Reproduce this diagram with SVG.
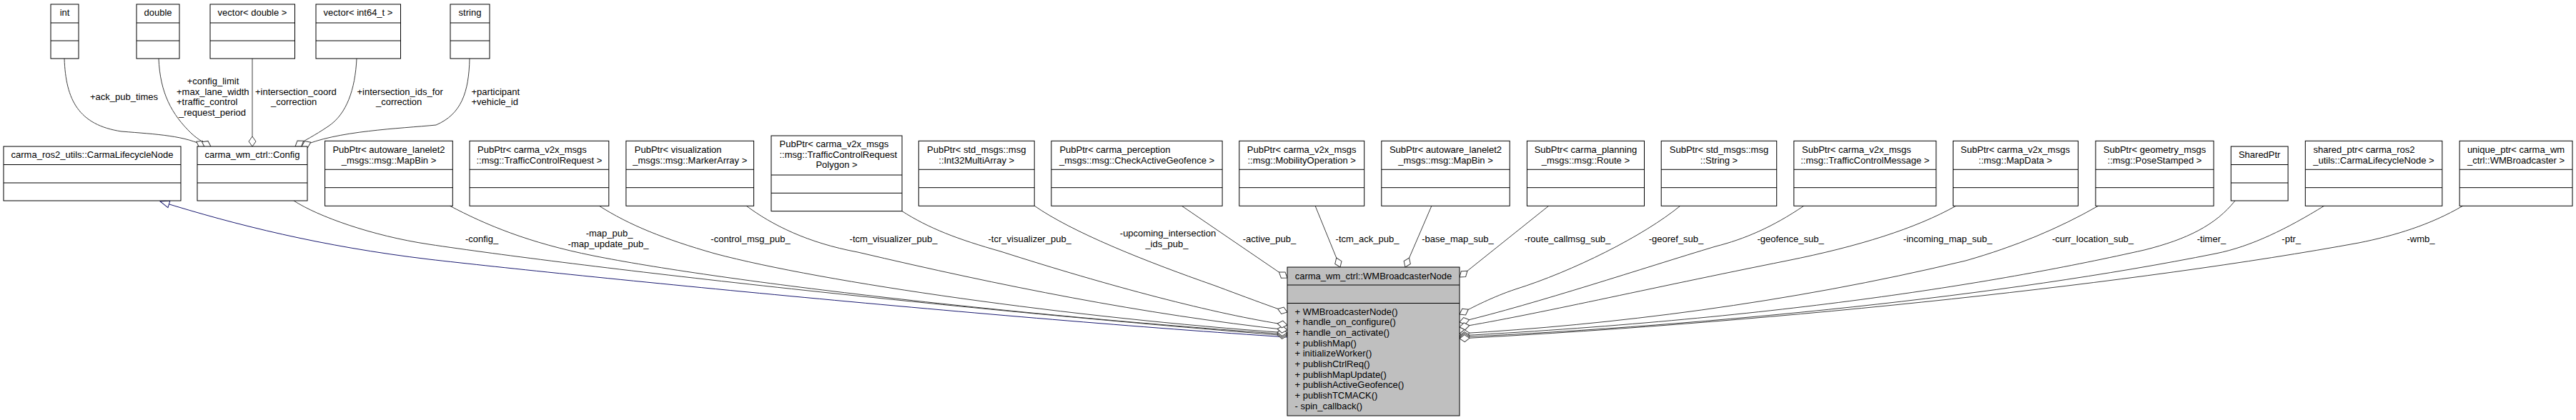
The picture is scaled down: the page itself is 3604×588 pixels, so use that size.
<svg xmlns="http://www.w3.org/2000/svg" width="3604" height="588" viewBox="0 0 3604 588">
<style>
text{font-family:"Liberation Sans",Arial,Helvetica,sans-serif;font-size:13px;fill:#000}
.m{text-anchor:middle}
.b{fill:#fff;stroke:#000;stroke-width:1}
.g{fill:#bfbfbf;stroke:#000;stroke-width:1}
.d{stroke:#000;stroke-width:1}
.e{fill:none;stroke:#404040;stroke-width:1;marker-end:url(#dia)}
.i{fill:none;stroke:#191970;stroke-width:1;marker-end:url(#tri)}
</style>
<defs>
<marker id="dia" markerUnits="userSpaceOnUse" markerWidth="16" markerHeight="12" viewBox="-1 -6 16 12" refX="14" refY="0" orient="auto" overflow="visible">
<path d="M0,0 L7,-5 L14,0 L7,5 Z" fill="#fff" stroke="#404040" stroke-width="1"/>
</marker>
<marker id="tri" markerUnits="userSpaceOnUse" markerWidth="15" markerHeight="12" viewBox="-1 -6 15 12" refX="13" refY="0" orient="auto" overflow="visible">
<path d="M0,-5 L13,0 L0,5 Z" fill="#fff" stroke="#191970" stroke-width="1"/>
</marker>
</defs>
<rect width="3604" height="588" fill="#fff"/>

<g id="connectors">
<path class="e" d="M90,82 C92,140 110,175 170,184 C220,188 260,190 287,205"/>
<path class="e" d="M222,82 C224,130 240,160 268,187 C278,196 287,201 295,205"/>
<path class="e" d="M353,82 L353,205"/>
<path class="e" d="M499,82 C497,125 485,160 459,177 C440,190 425,197 413,205"/>
<path class="e" d="M657,82 C656,130 645,160 610,175 C560,180 470,183 422,205"/>
<path class="i" d="M1801,472 C1400,446 800,386 600,363 C450,345 330,315 224,282"/>
<path class="e" d="M411,281 C445,303 520,330 600,342 C800,372 1300,430 1801,470"/>
<path class="e" d="M629,288 C680,315 740,340 830,358 C1000,392 1400,440 1801,468"/>
<path class="e" d="M838,288 C880,315 930,335 1000,355 C1150,395 1500,445 1801,466"/>
<path class="e" d="M1044,288 C1080,315 1130,340 1200,353 C1400,400 1600,440 1801,462"/>
<path class="e" d="M1261,295 C1300,320 1340,335 1400,352 C1550,400 1700,440 1801,455"/>
<path class="e" d="M1447,288 C1500,325 1600,365 1700,400 C1740,415 1775,428 1801,437"/>
<path class="e" d="M1653,288 L1801,389"/>
<path class="e" d="M1840,288 L1875,374"/>
<path class="e" d="M2003,288 L1966,374"/>
<path class="e" d="M2167,288 L2042,388"/>
<path class="e" d="M2351,288 C2300,330 2200,380 2120,405 C2090,415 2060,430 2042,440"/>
<path class="e" d="M2524,288 C2480,318 2440,335 2400,345 C2300,375 2150,425 2042,451"/>
<path class="e" d="M2737,288 C2680,320 2600,345 2500,365 C2300,405 2150,440 2042,458"/>
<path class="e" d="M2936,288 C2880,320 2820,345 2750,365 C2500,425 2250,455 2042,467"/>
<path class="e" d="M3127,281 C3100,315 3060,335 3000,350 C2800,395 2500,445 2042,470"/>
<path class="e" d="M3252,288 C3200,320 3150,345 3100,355 C2800,415 2400,455 2042,472"/>
<path class="e" d="M3446,288 C3400,315 3350,330 3300,340 C3000,395 2500,450 2042,474"/>
<text x="126" y="139.5">+ack_pub_times</text>
<text class="m" x="298" y="118">+config_limit</text>
<text x="247" y="132.5">+max_lane_width</text>
<text x="247" y="147">+traffic_control</text>
<text class="m" x="297" y="161.5">_request_period</text>
<text x="357" y="132.5">+intersection_coord</text>
<text x="379" y="147">_correction</text>
<text x="499.5" y="132.5">+intersection_ids_for</text>
<text x="526" y="147">_correction</text>
<text x="659.5" y="132.5">+participant</text>
<text x="659.5" y="147">+vehicle_id</text>
<text class="m" x="674" y="338.5">-config_</text>
<text class="m" x="852.6" y="331">-map_pub_</text>
<text class="m" x="851" y="345.5">-map_update_pub_</text>
<text class="m" x="1050" y="338.5">-control_msg_pub_</text>
<text class="m" x="1250" y="338.5">-tcm_visualizer_pub_</text>
<text class="m" x="1440.7" y="338.5">-tcr_visualizer_pub_</text>
<text class="m" x="1634" y="331">-upcoming_intersection</text>
<text class="m" x="1632.4" y="345.5">_ids_pub_</text>
<text class="m" x="1776" y="338.5">-active_pub_</text>
<text class="m" x="1913" y="338.5">-tcm_ack_pub_</text>
<text class="m" x="2039.5" y="338.5">-base_map_sub_</text>
<text class="m" x="2193" y="338.5">-route_callmsg_sub_</text>
<text class="m" x="2345" y="338.5">-georef_sub_</text>
<text class="m" x="2505" y="338.5">-geofence_sub_</text>
<text class="m" x="2725" y="338.5">-incoming_map_sub_</text>
<text class="m" x="2928" y="338.5">-curr_location_sub_</text>
<text class="m" x="3094" y="338.5">-timer_</text>
<text class="m" x="3205.7" y="338.5">-ptr_</text>
<text class="m" x="3387" y="338.5">-wmb_</text>
</g>

<g id="n_int"><rect class="b" x="71" y="6" width="39" height="76"/><line class="d" x1="71" y1="32" x2="110" y2="32"/><line class="d" x1="71" y1="57" x2="110" y2="57"/><text class="m" x="90.5" y="22">int</text></g>
<g id="n_double"><rect class="b" x="191" y="6" width="60" height="76"/><line class="d" x1="191" y1="32" x2="251" y2="32"/><line class="d" x1="191" y1="57" x2="251" y2="57"/><text class="m" x="221" y="22">double</text></g>
<g id="n_vecdouble"><rect class="b" x="294" y="6" width="118.5" height="76"/><line class="d" x1="294" y1="32" x2="412.5" y2="32"/><line class="d" x1="294" y1="57" x2="412.5" y2="57"/><text class="m" x="353" y="22">vector&lt; double &gt;</text></g>
<g id="n_vecint64"><rect class="b" x="442" y="6" width="118.5" height="76"/><line class="d" x1="442" y1="32" x2="560.5" y2="32"/><line class="d" x1="442" y1="57" x2="560.5" y2="57"/><text class="m" x="501" y="22">vector&lt; int64_t &gt;</text></g>
<g id="n_string"><rect class="b" x="630" y="6" width="55" height="76"/><line class="d" x1="630" y1="32" x2="685" y2="32"/><line class="d" x1="630" y1="57" x2="685" y2="57"/><text class="m" x="657.5" y="22">string</text></g>

<g id="n_carmalifecycle"><rect class="b" x="5" y="205" width="248" height="76"/><line class="d" x1="5" y1="230.5" x2="253" y2="230.5"/><line class="d" x1="5" y1="256" x2="253" y2="256"/><text class="m" x="129" y="221">carma_ros2_utils::CarmaLifecycleNode</text></g>
<g id="n_config"><rect class="b" x="276" y="205" width="154" height="76"/><line class="d" x1="276" y1="230.5" x2="430" y2="230.5"/><line class="d" x1="276" y1="256" x2="430" y2="256"/><text class="m" x="353" y="221">carma_wm_ctrl::Config</text></g>

<g id="n_pub_mapbin"><rect class="b" x="454.6" y="197.3" width="178.7" height="91"/><line class="d" x1="454.6" y1="237.3" x2="633.3" y2="237.3"/><line class="d" x1="454.6" y1="262.7" x2="633.3" y2="262.7"/><text class="m" x="544" y="214">PubPtr&lt; autoware_lanelet2</text><text class="m" x="544" y="228.5">_msgs::msg::MapBin &gt;</text></g>
<g id="n_pub_tcr"><rect class="b" x="657" y="197.3" width="194.8" height="91"/><line class="d" x1="657" y1="237.3" x2="851.8" y2="237.3"/><line class="d" x1="657" y1="262.7" x2="851.8" y2="262.7"/><text x="668" y="214">PubPtr&lt; carma_v2x_msgs</text><text class="m" x="754.4" y="228.5">::msg::TrafficControlRequest &gt;</text></g>
<g id="n_pub_marker"><rect class="b" x="875.9" y="197.3" width="178.7" height="91"/><line class="d" x1="875.9" y1="237.3" x2="1054.6" y2="237.3"/><line class="d" x1="875.9" y1="262.7" x2="1054.6" y2="262.7"/><text x="887.8" y="214">PubPtr&lt; visualization</text><text class="m" x="965.3" y="228.5">_msgs::msg::MarkerArray &gt;</text></g>
<g id="n_pub_tcrpoly"><rect class="b" x="1079" y="190" width="183" height="105.6"/><line class="d" x1="1079" y1="245" x2="1262" y2="245"/><line class="d" x1="1079" y1="270.3" x2="1262" y2="270.3"/><text x="1090.5" y="206">PubPtr&lt; carma_v2x_msgs</text><text x="1090.5" y="220.5">::msg::TrafficControlRequest</text><text class="m" x="1170.5" y="235">Polygon &gt;</text></g>
<g id="n_pub_int32"><rect class="b" x="1285.3" y="197.3" width="161.9" height="91"/><line class="d" x1="1285.3" y1="237.3" x2="1447.2" y2="237.3"/><line class="d" x1="1285.3" y1="262.7" x2="1447.2" y2="262.7"/><text class="m" x="1366.2" y="214">PubPtr&lt; std_msgs::msg</text><text class="m" x="1366.2" y="228.5">::Int32MultiArray &gt;</text></g>
<g id="n_pub_geofence"><rect class="b" x="1470.9" y="197.3" width="239.2" height="91"/><line class="d" x1="1470.9" y1="237.3" x2="1710.1" y2="237.3"/><line class="d" x1="1470.9" y1="262.7" x2="1710.1" y2="262.7"/><text x="1482.4" y="214">PubPtr&lt; carma_perception</text><text class="m" x="1590.5" y="228.5">_msgs::msg::CheckActiveGeofence &gt;</text></g>
<g id="n_pub_mobility"><rect class="b" x="1733.8" y="197.3" width="174.9" height="91"/><line class="d" x1="1733.8" y1="237.3" x2="1908.7" y2="237.3"/><line class="d" x1="1733.8" y1="262.7" x2="1908.7" y2="262.7"/><text class="m" x="1821.2" y="214">PubPtr&lt; carma_v2x_msgs</text><text class="m" x="1821.2" y="228.5">::msg::MobilityOperation &gt;</text></g>
<g id="n_sub_mapbin"><rect class="b" x="1932.8" y="197.3" width="179.4" height="91"/><line class="d" x1="1932.8" y1="237.3" x2="2112.2" y2="237.3"/><line class="d" x1="1932.8" y1="262.7" x2="2112.2" y2="262.7"/><text class="m" x="2022.5" y="214">SubPtr&lt; autoware_lanelet2</text><text class="m" x="2022.5" y="228.5">_msgs::msg::MapBin &gt;</text></g>
<g id="n_sub_route"><rect class="b" x="2136.4" y="197.3" width="164.1" height="91"/><line class="d" x1="2136.4" y1="237.3" x2="2300.5" y2="237.3"/><line class="d" x1="2136.4" y1="262.7" x2="2300.5" y2="262.7"/><text class="m" x="2218.4" y="214">SubPtr&lt; carma_planning</text><text class="m" x="2218.4" y="228.5">_msgs::msg::Route &gt;</text></g>
<g id="n_sub_string"><rect class="b" x="2324.2" y="197.3" width="161.5" height="91"/><line class="d" x1="2324.2" y1="237.3" x2="2485.7" y2="237.3"/><line class="d" x1="2324.2" y1="262.7" x2="2485.7" y2="262.7"/><text class="m" x="2405" y="214">SubPtr&lt; std_msgs::msg</text><text class="m" x="2405" y="228.5">::String &gt;</text></g>
<g id="n_sub_tcm"><rect class="b" x="2509.8" y="197.3" width="199" height="91"/><line class="d" x1="2509.8" y1="237.3" x2="2708.8" y2="237.3"/><line class="d" x1="2509.8" y1="262.7" x2="2708.8" y2="262.7"/><text x="2521" y="214">SubPtr&lt; carma_v2x_msgs</text><text class="m" x="2609.3" y="228.5">::msg::TrafficControlMessage &gt;</text></g>
<g id="n_sub_mapdata"><rect class="b" x="2732.5" y="197.3" width="174.9" height="91"/><line class="d" x1="2732.5" y1="237.3" x2="2907.4" y2="237.3"/><line class="d" x1="2732.5" y1="262.7" x2="2907.4" y2="262.7"/><text class="m" x="2819.5" y="214">SubPtr&lt; carma_v2x_msgs</text><text class="m" x="2819.5" y="228.5">::msg::MapData &gt;</text></g>
<g id="n_sub_pose"><rect class="b" x="2931.9" y="197.3" width="165.2" height="91"/><line class="d" x1="2931.9" y1="237.3" x2="3097.1" y2="237.3"/><line class="d" x1="2931.9" y1="262.7" x2="3097.1" y2="262.7"/><text class="m" x="3014.5" y="214">SubPtr&lt; geometry_msgs</text><text class="m" x="3014.5" y="228.5">::msg::PoseStamped &gt;</text></g>
<g id="n_sharedptr"><rect class="b" x="3121.3" y="205" width="79.8" height="76"/><line class="d" x1="3121.3" y1="230.5" x2="3201.1" y2="230.5"/><line class="d" x1="3121.3" y1="256" x2="3201.1" y2="256"/><text class="m" x="3161.2" y="221">SharedPtr</text></g>
<g id="n_shared_ptr_node"><rect class="b" x="3225.3" y="197.3" width="191.5" height="91"/><line class="d" x1="3225.3" y1="237.3" x2="3416.8" y2="237.3"/><line class="d" x1="3225.3" y1="262.7" x2="3416.8" y2="262.7"/><text x="3236.5" y="214">shared_ptr&lt; carma_ros2</text><text class="m" x="3321" y="228.5">_utils::CarmaLifecycleNode &gt;</text></g>
<g id="n_unique_ptr_wmb"><rect class="b" x="3441.1" y="197.3" width="157.9" height="91"/><line class="d" x1="3441.1" y1="237.3" x2="3599" y2="237.3"/><line class="d" x1="3441.1" y1="262.7" x2="3599" y2="262.7"/><text class="m" x="3520" y="214">unique_ptr&lt; carma_wm</text><text class="m" x="3520" y="228.5">_ctrl::WMBroadcaster &gt;</text></g>

<g id="n_wmbroadcasternode"><rect class="g" x="1801" y="374" width="241" height="208"/><line class="d" x1="1801" y1="399" x2="2042" y2="399"/><line class="d" x1="1801" y1="424.5" x2="2042" y2="424.5"/><text class="m" x="1921.5" y="390.5">carma_wm_ctrl::WMBroadcasterNode</text>
<text x="1811.5" y="440.5">+ WMBroadcasterNode()</text>
<text x="1811.5" y="455.2">+ handle_on_configure()</text>
<text x="1811.5" y="469.8">+ handle_on_activate()</text>
<text x="1811.5" y="484.5">+ publishMap()</text>
<text x="1811.5" y="499.2">+ initializeWorker()</text>
<text x="1811.5" y="513.8">+ publishCtrlReq()</text>
<text x="1811.5" y="528.5">+ publishMapUpdate()</text>
<text x="1811.5" y="543.2">+ publishActiveGeofence()</text>
<text x="1811.5" y="557.8">+ publishTCMACK()</text>
<text x="1811.5" y="572.5">- spin_callback()</text>
</g>
</svg>
